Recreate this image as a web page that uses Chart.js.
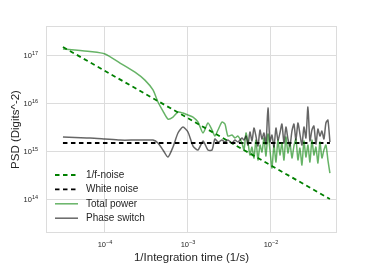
<!DOCTYPE html>
<html>
<head>
<meta charset="utf-8">
<script src="https://cdn.jsdelivr.net/npm/chart.js@4/dist/chart.umd.min.js"></script>
<style>
  html, body { margin: 0; padding: 0; background: #fff; }
</style>
</head>
<body>
<canvas id="psd-chart" width="374" height="267"></canvas>
<script>
// 1/integration time (1/s), shared by total power and phase switch
const freq = [
  3.12e-5, 4.35e-5, 6.6e-5, 1.0e-4, 1.52e-4, 2.30e-4, 3.03e-4, 3.79e-4, 4.35e-4, 5.0e-4,
  5.74e-4, 6.6e-4, 7.58e-4, 8.7e-4, 1.0e-3, 1.15e-3, 1.32e-3, 1.52e-3, 1.74e-3, 1.95e-3,
  2.11e-3, 2.30e-3, 2.57e-3, 2.79e-3, 3.03e-3, 3.39e-3, 3.68e-3, 4.0e-3, 4.47e-3,
  4.73e-3, 5.00e-3, 5.28e-3, 5.58e-3, 5.90e-3, 6.24e-3, 6.59e-3, 6.97e-3, 7.37e-3, 7.79e-3,
  8.23e-3, 8.70e-3, 9.20e-3, 9.72e-3, 1.027e-2, 1.086e-2, 1.148e-2, 1.213e-2, 1.282e-2, 1.355e-2,
  1.433e-2, 1.514e-2, 1.601e-2, 1.692e-2, 1.788e-2, 1.890e-2, 1.998e-2, 2.112e-2, 2.232e-2, 2.359e-2,
  2.494e-2, 2.636e-2, 2.786e-2, 2.945e-2, 3.113e-2, 3.290e-2, 3.478e-2, 3.676e-2, 3.886e-2, 4.107e-2,
  4.341e-2, 4.589e-2, 4.850e-2, 5.127e-2
];

// PSD (Digits^2)
const totalPower = [
  1.33e17, 1.27e17, 1.18e17, 1.05e17, 6.8e16, 4.4e16, 3.0e16, 1.87e16, 1.05e16, 6.8e15,
  4.64e15, 5.1e15, 6.49e15, 6.19e15, 5.62e15, 5.1e15, 4.02e15, 2.37e15, 3.83e15, 2.74e15,
  2.05e15, 2.74e15, 4.02e15, 3.65e15, 2.05e15, 2.15e15, 1.87e15, 2.05e15, 1.47e15,
  1.05e15, 2.37e15, 1.54e15, 8.25e14, 1.21e15, 7.15e14, 1.69e15, 6.49e14, 1.33e15, 9.5e14,
  1.87e15, 7.87e14, 2.26e15, 1.05e15, 4.42e14, 1.33e15, 5.9e14, 1.69e15, 8.25e14, 1.47e15,
  6.49e14, 1.96e15, 9.1e14, 1.47e15, 7.15e14, 1.27e15, 1.78e15, 6.49e14, 1.15e15, 5.11e14,
  1.62e15, 7.5e14, 1.33e15, 5.9e14, 1.69e15, 8.25e14, 1.21e15, 5.62e14, 1.54e15, 7.15e14,
  1.05e15, 1.33e15, 6.49e14, 3.48e14
];

const phaseSwitch = [
  1.96e15, 1.91e15, 1.87e15, 1.78e15, 1.69e15, 1.69e15, 1.69e15, 1.69e15, 1.47e15, 1.05e15,
  7.5e14, 1.21e15, 2.37e15, 3.16e15, 2.49e15, 1.27e15, 1.05e15, 1.61e15, 1.05e15, 1.05e15,
  1.78e15, 1.54e15, 1.69e15, 1.54e15, 1.69e15, 1.47e15, 1.69e15, 1.54e15, 1.87e15,
  1.69e15, 2.05e15, 1.33e15, 2.49e15, 1.62e15, 3.01e15, 2.05e15, 1.27e15, 2.74e15, 1.78e15,
  2.37e15, 1.40e15, 7.87e15, 1.54e15, 2.15e15, 1.21e15, 3.01e15, 1.69e15, 2.37e15, 3.65e15,
  1.47e15, 3.16e15, 1.78e15, 1.27e15, 2.61e15, 3.65e15, 1.69e15, 3.83e15, 2.26e15, 1.33e15,
  3.16e15, 1.87e15, 8.25e15, 1.62e15, 2.74e15, 3.32e15, 1.40e15, 2.87e15, 2.05e15, 2.61e15,
  1.78e15, 3.83e15, 4.42e15, 1.54e15
];

// model lines (end points)
const oneOverFFreq = [3.12e-5, 5.127e-2];
const oneOverFNoise = [1.47e17, 1.0e14];
const whiteFreq = [3.12e-5, 5.127e-2];
const whiteNoise = [1.47e15, 1.47e15];

// axis ticks (powers of ten)
const xTickExponents = [-4, -3, -2];
const yTickExponents = [14, 15, 16, 17];

const gridColor = '#dcdcdc';
const textColor = '#262626';
const fontName = '"Liberation Sans", Arial, sans-serif';

function toPoints(xs, ys) {
  return xs.map((x, i) => ({ x: x, y: ys[i] }));
}

// frame, power-of-ten labels and in-plot legend
const psdDecor = {
  id: 'psdDecor',
  beforeDatasetsDraw(chart) {
    const { ctx, chartArea: a } = chart;
    ctx.save();
    ctx.strokeStyle = gridColor;
    ctx.lineWidth = 1;
    ctx.strokeRect(a.left + 0.5, a.top + 0.5, a.right - a.left - 1, a.bottom - a.top - 1);
    ctx.restore();
  },
  afterDraw(chart) {
    const ctx = chart.ctx;
    const xs = chart.scales.x;
    const ys = chart.scales.y;
    ctx.save();
    ctx.fillStyle = textColor;
    ctx.textBaseline = 'alphabetic';
    ctx.textAlign = 'left';

    yTickExponents.forEach(e => {
      const py = ys.getPixelForValue(Math.pow(10, e));
      const ex = String(e);
      ctx.font = '5.5px ' + fontName;
      const w2 = ctx.measureText(ex).width;
      ctx.font = '7.5px ' + fontName;
      const w1 = ctx.measureText('10').width;
      const right = chart.chartArea.left - 8;
      ctx.fillText('10', right - w2 - w1, py + 3);
      ctx.font = '5.5px ' + fontName;
      ctx.fillText(ex, right - w2, py - 0.5);
    });

    xTickExponents.forEach(e => {
      const px = xs.getPixelForValue(Math.pow(10, e));
      const ex = '\u2212' + String(-e);
      ctx.font = '5.5px ' + fontName;
      const w2 = ctx.measureText(ex).width;
      ctx.font = '7.5px ' + fontName;
      const w1 = ctx.measureText('10').width;
      const left = px - (w1 + w2) / 2;
      const base = chart.chartArea.bottom + 14;
      ctx.fillText('10', left, base);
      ctx.font = '5.5px ' + fontName;
      ctx.fillText(ex, left + w1, base - 3.5);
    });

    // legend
    const a = chart.chartArea;
    ctx.font = '10px ' + fontName;
    ctx.textBaseline = 'middle';
    chart.data.datasets.forEach((ds, i) => {
      const y = a.top + 149 + i * 14.4;
      ctx.save();
      ctx.strokeStyle = ds.borderColor;
      ctx.lineWidth = ds.borderWidth;
      ctx.setLineDash(ds.borderDash || []);
      ctx.beginPath();
      ctx.moveTo(a.left + 9, y);
      ctx.lineTo(a.left + 32, y);
      ctx.stroke();
      ctx.restore();
      ctx.fillStyle = textColor;
      ctx.fillText(ds.label, a.left + 40, y);
    });
    ctx.restore();
  }
};

new Chart(document.getElementById('psd-chart'), {
  type: 'line',
  data: {
    datasets: [
      {
        label: '1/f-noise',
        data: toPoints(oneOverFFreq, oneOverFNoise),
        borderColor: '#008000',
        borderWidth: 1.8,
        borderDash: [4.5, 3.5],
        order: 3
      },
      {
        label: 'White noise',
        data: toPoints(whiteFreq, whiteNoise),
        borderColor: '#000000',
        borderWidth: 1.8,
        borderDash: [4.5, 3.5],
        order: 2
      },
      {
        label: 'Total power',
        data: toPoints(freq, totalPower),
        borderColor: 'rgba(0,128,0,0.6)',
        borderWidth: 1.5,
        tension: 0.22,
        order: 1
      },
      {
        label: 'Phase switch',
        data: toPoints(freq, phaseSwitch),
        borderColor: 'rgba(0,0,0,0.6)',
        borderWidth: 1.5,
        tension: 0.22,
        order: 0
      }
    ]
  },
  options: {
    responsive: false,
    animation: false,
    layout: { padding: { top: 26, right: 37, left: 0, bottom: 0 } },
    elements: { point: { radius: 0 } },
    plugins: {
      legend: { display: false },
      tooltip: { enabled: false }
    },
    scales: {
      x: {
        type: 'logarithmic',
        min: 1.95e-5,
        max: 6.24e-2,
        afterBuildTicks: s => { s.ticks = xTickExponents.map(e => ({ value: Math.pow(10, e) })); },
        afterFit: s => { s.height = 34; },
        ticks: { display: false },
        grid: { color: gridColor, drawTicks: false },
        border: { display: false },
        title: {
          display: true,
          text: '1/Integration time (1/s)',
          color: textColor,
          font: { family: fontName, size: 11.5 },
          padding: { top: 0, bottom: 2 }
        }
      },
      y: {
        type: 'logarithmic',
        min: 1.96e13,
        max: 4.02e17,
        afterBuildTicks: s => { s.ticks = yTickExponents.map(e => ({ value: Math.pow(10, e) })); },
        afterFit: s => { s.width = 46; },
        ticks: { display: false },
        grid: { color: gridColor, drawTicks: false },
        border: { display: false },
        title: {
          display: true,
          text: 'PSD (Digits^-2)',
          color: textColor,
          font: { family: fontName, size: 11.5 },
          padding: { top: 9, bottom: 0 }
        }
      }
    }
  },
  plugins: [psdDecor]
});
</script>
</body>
</html>
